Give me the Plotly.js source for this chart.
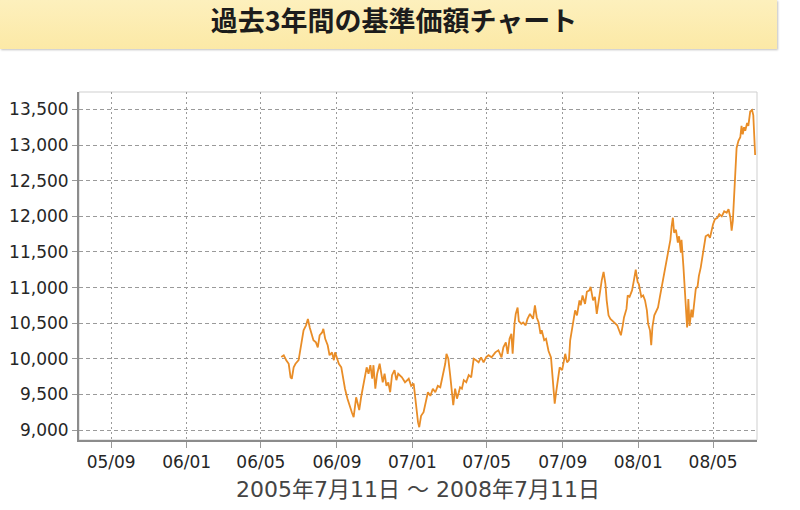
<!DOCTYPE html>
<html>
<head>
<meta charset="utf-8">
<script src="https://cdn.plot.ly/plotly-3.0.1.min.js"></script>
<style>
  html, body { margin: 0; padding: 0; background: #ffffff; }
  #wrap { position: relative; width: 800px; height: 510px; overflow: hidden; }
  #banner {
    position: absolute; left: 0; top: 0; width: 777px; height: 49px;
    background: linear-gradient(to bottom, #fdf0bd 0%, #fce9a6 100%);
    box-shadow: 1px 1px 2px rgba(0,0,0,0.25);
  }
  #chart { position: absolute; left: 0; top: 0; width: 800px; height: 510px; }
</style>
</head>
<body>
<div id="wrap">
  <div id="banner"></div>
  <div id="chart"></div>
</div>
<script>
// ---- data ----
const chartTitle = "過去3年間の基準価額チャート";
const periodLabel = "2005年7月11日 ～ 2008年7月11日";

const dates = [
  "2006-06-03","2006-06-07","2006-06-11","2006-06-15","2006-06-18","2006-06-20","2006-06-23","2006-06-26",
  "2006-07-01","2006-07-06","2006-07-09","2006-07-13","2006-07-16","2006-07-19","2006-07-23","2006-07-25",
  "2006-07-29","2006-08-01","2006-08-04","2006-08-08","2006-08-10","2006-08-13","2006-08-17","2006-08-20",
  "2006-08-24","2006-08-27","2006-08-29","2006-09-01","2006-09-04","2006-09-08","2006-09-11","2006-09-14",
  "2006-09-18","2006-09-21","2006-09-25","2006-09-28","2006-10-01","2006-10-02","2006-10-04","2006-10-07",
  "2006-10-10","2006-10-13","2006-10-16","2006-10-19","2006-10-22","2006-10-25","2006-10-28","2006-10-30",
  "2006-11-02","2006-11-05","2006-11-09","2006-11-12","2006-11-14","2006-11-17","2006-11-20","2006-11-23",
  "2006-11-26","2006-11-29","2006-12-03","2006-12-06","2006-12-09","2006-12-15","2006-12-20","2006-12-26",
  "2006-12-30","2007-01-03","2007-01-06","2007-01-10","2007-01-12","2007-01-15","2007-01-19","2007-01-23",
  "2007-01-26","2007-01-30","2007-02-03","2007-02-07","2007-02-11","2007-02-15","2007-02-18","2007-02-23",
  "2007-02-25","2007-02-28","2007-03-03","2007-03-06","2007-03-08","2007-03-11","2007-03-14","2007-03-17",
  "2007-03-19","2007-03-22","2007-03-25","2007-03-29","2007-04-02","2007-04-06","2007-04-10","2007-04-14",
  "2007-04-18","2007-04-22","2007-04-26","2007-04-30","2007-05-04","2007-05-09","2007-05-15","2007-05-20",
  "2007-05-25","2007-05-28","2007-06-01","2007-06-04","2007-06-07","2007-06-10","2007-06-12","2007-06-15",
  "2007-06-17","2007-06-20","2007-06-22","2007-06-26","2007-06-29","2007-07-03","2007-07-06","2007-07-10",
  "2007-07-15","2007-07-18","2007-07-21","2007-07-24","2007-07-27","2007-07-29","2007-08-02","2007-08-05",
  "2007-08-09","2007-08-13","2007-08-15","2007-08-17","2007-08-19","2007-08-21","2007-08-24","2007-08-27",
  "2007-08-31","2007-09-02","2007-09-05","2007-09-08","2007-09-11","2007-09-13","2007-09-16","2007-09-19",
  "2007-09-21","2007-09-24","2007-09-28","2007-09-30","2007-10-03","2007-10-07","2007-10-10","2007-10-14",
  "2007-10-16","2007-10-20","2007-10-23","2007-10-26","2007-10-29","2007-10-31","2007-11-03","2007-11-06",
  "2007-11-09","2007-11-11","2007-11-14","2007-11-17","2007-11-20","2007-11-23","2007-11-28","2007-12-01",
  "2007-12-04","2007-12-07","2007-12-09","2007-12-13","2007-12-15","2007-12-18","2007-12-22","2007-12-25",
  "2007-12-28","2007-12-31","2008-01-02","2008-01-06","2008-01-09","2008-01-12","2008-01-15","2008-01-17",
  "2008-01-20","2008-01-22","2008-01-24","2008-01-27","2008-01-30","2008-02-02","2008-02-05","2008-02-09",
  "2008-02-12","2008-02-16","2008-02-19","2008-02-22","2008-02-24","2008-02-26","2008-02-28","2008-03-02",
  "2008-03-05","2008-03-07","2008-03-10","2008-03-11","2008-03-14","2008-03-16","2008-03-18","2008-03-20",
  "2008-03-21","2008-03-22","2008-03-24","2008-03-27","2008-03-29","2008-04-01","2008-04-03","2008-04-06",
  "2008-04-08","2008-04-11","2008-04-14","2008-04-17","2008-04-19","2008-04-23","2008-04-26","2008-05-01",
  "2008-05-04","2008-05-08","2008-05-11","2008-05-15","2008-05-19","2008-05-23","2008-05-26","2008-05-29",
  "2008-05-31","2008-06-02","2008-06-04","2008-06-06","2008-06-08","2008-06-11","2008-06-14","2008-06-16",
  "2008-06-18","2008-06-20","2008-06-22","2008-06-25","2008-06-27","2008-06-30","2008-07-03","2008-07-05",
  "2008-07-07","2008-07-08"
];

const nav = [
  10025,10050,9980,9930,9740,9720,9880,9930,
  9980,10230,10400,10470,10560,10440,10330,10260,
  10230,10160,10330,10370,10420,10280,10190,10050,
  10090,9980,10090,10000,9930,9880,9720,9580,
  9440,9350,9250,9180,9350,9460,9390,9280,
  9460,9600,9720,9880,9790,9910,9720,9910,
  9580,9790,9930,9740,9670,9790,9620,9670,
  9530,9770,9840,9700,9790,9740,9670,9720,
  9620,9650,9390,9110,9040,9200,9250,9390,
  9530,9480,9580,9530,9620,9600,9720,9930,
  10070,10000,9770,9480,9350,9580,9440,9530,
  9600,9580,9700,9670,9770,9740,10000,9980,
  9950,10020,9950,10020,10050,10020,10090,10120,
  10020,10160,10230,10070,10280,10350,10070,10490,
  10630,10720,10530,10490,10510,10470,10560,10630,
  10560,10750,10580,10510,10350,10400,10260,10280,
  10110,10020,9790,9600,9370,9510,9740,9880,
  9840,9930,10070,9950,9980,10260,10400,10540,
  10680,10610,10820,10750,10890,10770,10940,10960,
  11010,10820,10870,10630,10820,10960,11100,11220,
  11050,10820,10610,10560,10540,10510,10470,10400,
  10330,10470,10580,10700,10890,10870,10960,11100,
  11250,11080,11050,10870,10890,10820,10680,10490,
  10400,10190,10450,10610,10680,10720,10870,11060,
  11250,11440,11580,11670,11860,11980,11770,11810,
  11630,11720,11490,11670,11300,11060,10690,10440,
  10600,10840,10460,10690,10580,10840,10980,11020,
  11160,11280,11440,11630,11720,11740,11700,11890,
  11960,11980,12030,12000,12070,12050,12100,11980,
  11800,11940,12310,12540,12960,13060,13110,13270,
  13150,13250,13200,13310,13270,13470,13490,13420,
  13000,12860
];

const xTickDates  = ["2005-09-01","2006-01-01","2006-05-01","2006-09-01","2007-01-01","2007-05-01","2007-09-01","2008-01-01","2008-05-01"];
const xTickLabels = ["05/09","06/01","06/05","06/09","07/01","07/05","07/09","08/01","08/05"];
const yTickValues = [9000,9500,10000,10500,11000,11500,12000,12500,13000,13500];
const xRange = ["2005-07-11","2008-07-11"];
const yRange = [8860,13745];

// ---- chart ----
const trace = {
  type: "scatter",
  mode: "lines",
  x: dates,
  y: nav,
  line: { color: "#e98d27", width: 1.8 },
  hoverinfo: "x+y"
};

const tickFont = { family: "DejaVu Sans, Verdana, sans-serif", size: 17, color: "#262626" };

const layout = {
  width: 800,
  height: 510,
  paper_bgcolor: "rgba(0,0,0,0)",
  plot_bgcolor: "#ffffff",
  showlegend: false,
  margin: { l: 79, r: 43, t: 92, b: 70 },
  title: {
    text: chartTitle,
    font: { family: "Noto Sans CJK JP", size: 27, color: "#1c1c1c", weight: 700 },
    xref: "container", x: 0.4925, xanchor: "center",
    yref: "container", y: 0.958, yanchor: "middle"
  },
  xaxis: {
    type: "date",
    range: xRange,
    tickmode: "array",
    tickvals: xTickDates,
    ticktext: xTickLabels,
    tickfont: tickFont,
    ticks: "outside",
    ticklen: 6,
    tickcolor: "#999999",
    showgrid: true,
    gridcolor: "#9a9a9a",
    gridwidth: 1,
    griddash: "2px,3px",
    showline: true,
    linecolor: "#8c8c8c",
    linewidth: 2,
    zeroline: false,
    title: {
      text: periodLabel,
      font: { family: "DejaVu Sans, Noto Sans CJK JP", size: 22, color: "#444444" },
      standoff: 10
    }
  },
  yaxis: {
    range: yRange,
    tickmode: "array",
    tickvals: yTickValues,
    tickformat: ",d",
    tickfont: tickFont,
    ticks: "outside",
    ticklen: 5,
    tickcolor: "#999999",
    showgrid: true,
    gridcolor: "#9a9a9a",
    gridwidth: 1,
    griddash: "4px,3px",
    showline: true,
    linecolor: "#8c8c8c",
    linewidth: 2,
    zeroline: false
  },
  shapes: [
    { type: "rect", xref: "paper", yref: "paper", x0: 0, x1: 1, y0: 0, y1: 1,
      line: { color: "#cfcfcf", width: 1 }, fillcolor: "rgba(0,0,0,0)", layer: "below" }
  ]
};

Plotly.newPlot("chart", [trace], layout, { displayModeBar: false, staticPlot: true });
</script>
</body>
</html>
